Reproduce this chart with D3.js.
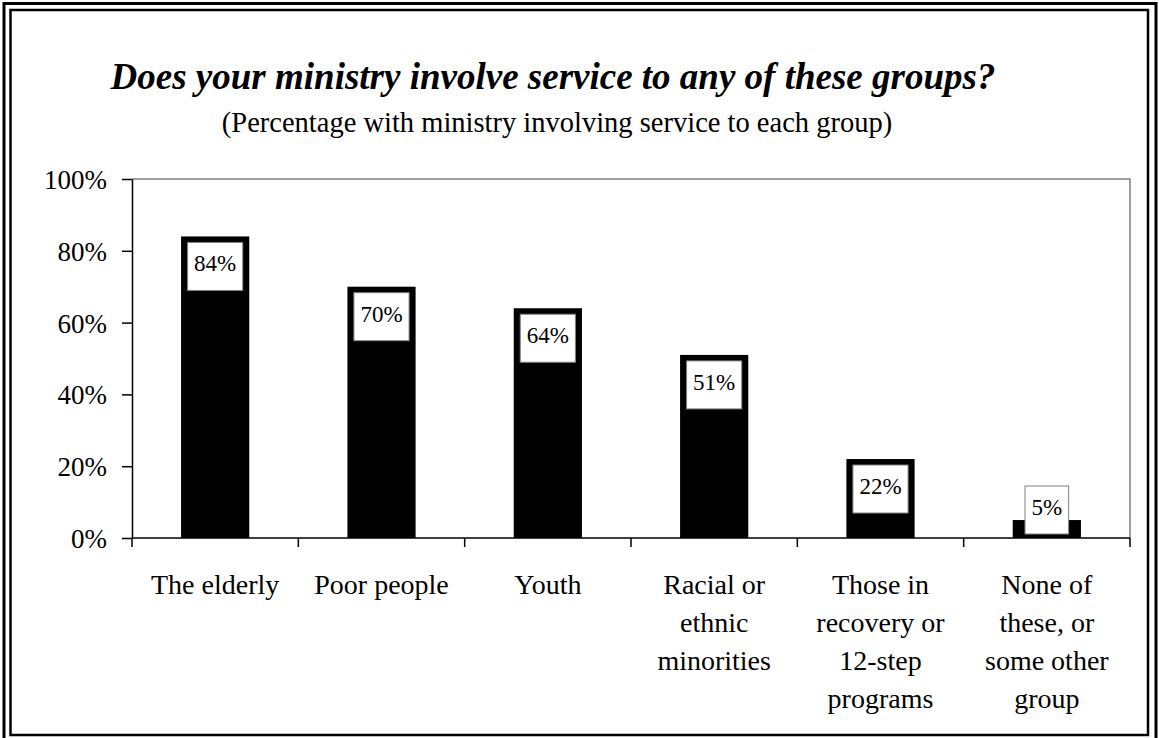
<!DOCTYPE html>
<meta charset="utf-8">
<head>
<style>
  body { margin: 0; background: #fff; }
</style>
</head>
<body>
<div id="chart"></div>
<script src="https://d3js.org/d3.v7.min.js"></script>
<script>
    // chart data
    let categories = [
        ['The elderly'],
        ['Poor people'],
        ['Youth'],
        ['Racial or', 'ethnic', 'minorities'],
        ['Those in', 'recovery or', '12-step', 'programs'],
        ['None of', 'these, or', 'some other', 'group']
    ];
    let values = [84, 70, 64, 51, 22, 5];
    let yTicks = [0, 20, 40, 60, 80, 100];

    let svgWidth = 1159;
    let svgHeight = 738;
    let plot = {left: 132, right: 1130, top: 179, bottom: 538};
    let serif = "'Liberation Serif', 'Times New Roman', Times, 'DejaVu Serif', serif";

    let svg = d3.select('#chart')
        .append('svg')
        .attr('width', svgWidth)
        .attr('height', svgHeight)
        .attr('font-family', serif);

    // double frame
    svg.append('rect')
        .attr('x', 4).attr('y', 3.5)
        .attr('width', 1152).attr('height', 760)
        .attr('fill', 'none').attr('stroke', '#000').attr('stroke-width', 3);
    svg.append('rect')
        .attr('x', 10.5).attr('y', 10)
        .attr('width', 1137.5).attr('height', 725)
        .attr('fill', 'none').attr('stroke', '#000').attr('stroke-width', 2.5);

    // titles
    svg.append('text')
        .attr('x', 553).attr('y', 89)
        .attr('text-anchor', 'middle')
        .attr('font-family', serif)
        .attr('font-size', 37)
        .attr('font-weight', 'bold')
        .attr('font-style', 'italic')
        .text('Does your ministry involve service to any of these groups?');
    svg.append('text')
        .attr('x', 557).attr('y', 132)
        .attr('text-anchor', 'middle')
        .attr('font-family', serif)
        .attr('font-size', 28.5)
        .text('(Percentage with ministry involving service to each group)');

    // scales
    let x = d3.scaleBand()
        .domain(d3.range(categories.length))
        .range([plot.left, plot.right])
        .paddingInner(0.59)
        .paddingOuter(0.295);
    let y = d3.scaleLinear()
        .domain([0, 100])
        .range([plot.bottom, plot.top]);

    // plot frame (top / right)
    svg.append('path')
        .attr('d', `M${plot.left},${plot.top}H${plot.right}V${plot.bottom}`)
        .attr('fill', 'none')
        .attr('stroke', '#808080')
        .attr('stroke-width', 1.5);

    // y axis
    let yAxis = svg.append('g')
        .attr('transform', `translate(${plot.left},0)`)
        .call(d3.axisLeft(y).tickValues(yTicks).tickSize(10).tickSizeOuter(0)
            .tickFormat(d => d + '%'));
    yAxis.attr('font-family', serif).attr('font-size', 27);
    yAxis.select('.domain').attr('stroke', '#000').attr('stroke-width', 1.5);
    yAxis.selectAll('.tick line').attr('stroke', '#000').attr('stroke-width', 1.5);
    yAxis.selectAll('.tick text')
        .attr('x', -25)
        .attr('dy', '0.35em')
        .attr('fill', '#000');

    // bars
    svg.selectAll('rect.bar')
        .data(values)
        .enter()
        .append('rect')
        .attr('class', 'bar')
        .attr('x', (d, i) => x(i))
        .attr('y', d => y(d))
        .attr('width', x.bandwidth())
        .attr('height', d => y(0) - y(d))
        .attr('fill', '#000');

    // x axis with ticks at category boundaries
    let step = x.step();
    let boundaries = d3.range(categories.length + 1).map(i => plot.left + i * step);
    let xAxis = svg.append('g');
    xAxis.append('line')
        .attr('x1', plot.left).attr('x2', plot.right)
        .attr('y1', y(0)).attr('y2', y(0))
        .attr('stroke', '#000').attr('stroke-width', 1.5);
    xAxis.selectAll('line.tick')
        .data(boundaries)
        .enter()
        .append('line')
        .attr('class', 'tick')
        .attr('x1', d => d).attr('x2', d => d)
        .attr('y1', y(0)).attr('y2', y(0) + 9)
        .attr('stroke', '#000').attr('stroke-width', 1.5);

    // category labels
    svg.selectAll('text.cat')
        .data(categories)
        .enter()
        .append('text')
        .attr('class', 'cat')
        .attr('text-anchor', 'middle')
        .attr('font-family', serif)
        .attr('font-size', 28)
        .each(function(lines, i) {
            d3.select(this).selectAll('tspan')
                .data(lines)
                .enter()
                .append('tspan')
                .attr('x', x(i) + x.bandwidth() / 2)
                .attr('y', (l, j) => 594 + j * 38)
                .text(l => l);
        });

    // data labels in white boxes
    let boxH = 48;
    let labels = svg.selectAll('g.label')
        .data(values)
        .enter()
        .append('g')
        .attr('class', 'label');
    labels.each(function(d, i) {
        let g = d3.select(this);
        let cx = x(i) + x.bandwidth() / 2;
        let top = Math.min(y(d) + 6, y(0) - 4 - boxH);
        let t = g.append('text')
            .attr('x', cx)
            .attr('y', top + 29)
            .attr('text-anchor', 'middle')
            .attr('font-family', serif)
            .attr('font-size', 23)
            .text(d + '%');
        let w = t.node().getComputedTextLength() + 13;
        g.insert('rect', 'text')
            .attr('x', cx - w / 2)
            .attr('y', top)
            .attr('width', w)
            .attr('height', boxH)
            .attr('fill', '#fff')
            .attr('stroke', '#808080')
            .attr('stroke-width', 1);
    });
</script>
</body>
